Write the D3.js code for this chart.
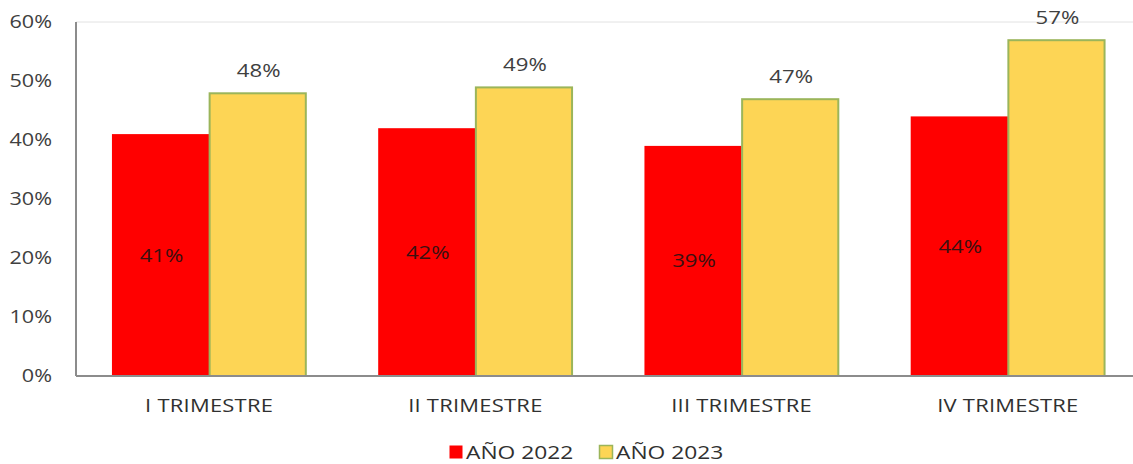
<!DOCTYPE html>
<html>
<head>
<meta charset="utf-8">
<script src="https://cdn.jsdelivr.net/npm/d3@7"></script>
<style>
  html, body { margin: 0; padding: 0; background: #fff; }
  svg { display: block; }
  text { font-family: "Open Sans", "Noto Sans", sans-serif; }
</style>
</head>
<body>
<svg id="chart" width="1133" height="464"></svg>
<script>
// Quarterly percentages by year
const categories = ["I TRIMESTRE", "II TRIMESTRE", "III TRIMESTRE", "IV TRIMESTRE"];
const seriesNames = ["AÑO 2022", "AÑO 2023"];
const values2022 = [0.41, 0.42, 0.39, 0.44];
const values2023 = [0.48, 0.49, 0.47, 0.57];
const yTicks = [0, 0.1, 0.2, 0.3, 0.4, 0.5, 0.6];

const seriesValues = [values2022, values2023];
const fills = ["#ff0000", "#fdd555"];
const strokes = ["none", "#9bb55a"];
const pct = d3.format(".0%");
const SX = 1.2; // horizontal stretch of the lettering

const svg = d3.select("#chart");
const margin = { left: 76, top: 22, bottom: 376, right: 1141 };

const x0 = d3.scaleBand()
  .domain(categories)
  .range([margin.left, margin.right])
  .paddingInner(0.27)
  .paddingOuter(0.135);

const x1 = d3.scaleBand()
  .domain(seriesNames)
  .range([0, x0.bandwidth()]);

const y = d3.scaleLinear().domain([0, 0.6]).range([margin.bottom, margin.top]);

// text placed at (cx, cy) with a horizontal stretch
function label(parent, cx, cy, str, size, fill, anchor) {
  return parent.append("text")
    .attr("transform", `translate(${cx},${cy}) scale(${SX},1)`)
    .attr("dy", "0.35em")
    .attr("text-anchor", anchor || "middle")
    .attr("font-size", size)
    .attr("fill", fill)
    .text(str);
}

// top frame line
svg.append("line")
  .attr("x1", margin.left).attr("x2", 1133)
  .attr("y1", y(0.6)).attr("y2", y(0.6))
  .attr("stroke", "#e2e2e2").attr("stroke-width", 1);

// y axis labels
const yAxis = d3.axisLeft(y).tickValues(yTicks).tickFormat(pct).tickSize(0).tickPadding(0);
const gy = svg.append("g").attr("transform", `translate(${margin.left},0)`).call(yAxis);
gy.select(".domain").remove();
gy.selectAll("text")
  .attr("x", null)
  .attr("transform", `translate(-24,0) scale(${SX},1)`)
  .attr("font-size", 18).attr("fill", "#404040");

// bars
categories.forEach((cat, i) => {
  seriesNames.forEach((s, j) => {
    const v = seriesValues[j][i];
    svg.append("rect")
      .attr("x", x0(cat) + x1(s) + (j === 1 ? 0.5 : 0))
      .attr("y", y(v) + (j === 1 ? 0.5 : 0))
      .attr("width", x1.bandwidth() - (j === 1 ? 1 : 0))
      .attr("height", y(0) - y(v) - (j === 1 ? 0.5 : 0))
      .attr("fill", fills[j])
      .attr("stroke", strokes[j])
      .attr("stroke-width", 2);
  });
});

// value labels
categories.forEach((cat, i) => {
  const v0 = values2022[i];
  label(svg, x0(cat) + x1(seriesNames[0]) + x1.bandwidth() / 2 + 1,
        (y(v0) + y(0)) / 2, pct(v0), 18.5, "#3a1010");
  const v1 = values2023[i];
  label(svg, x0(cat) + x1(seriesNames[1]) + x1.bandwidth() / 2 + 1,
        y(v1) - 22, pct(v1), 18.5, "#404040");
});

// axes lines
svg.append("line")
  .attr("x1", margin.left).attr("x2", margin.left)
  .attr("y1", margin.top).attr("y2", margin.bottom)
  .attr("stroke", "#8c8c8c").attr("stroke-width", 2);
svg.append("line")
  .attr("x1", margin.left).attr("x2", 1133)
  .attr("y1", margin.bottom).attr("y2", margin.bottom)
  .attr("stroke", "#8c8c8c").attr("stroke-width", 2);

// category labels
const xAxis = d3.axisBottom(x0).tickSize(0).tickPadding(0);
const gx = svg.append("g").attr("transform", `translate(0,${margin.bottom})`).call(xAxis);
gx.select(".domain").remove();
gx.selectAll("text")
  .attr("y", null).attr("dy", "0.35em")
  .attr("transform", `translate(0,30) scale(${SX},1)`)
  .attr("font-size", 18.3).attr("letter-spacing", 0.2).attr("fill", "#303030");

// legend
const legendX = [449, 599];
seriesNames.forEach((s, j) => {
  const g = svg.append("g").attr("transform", `translate(${legendX[j]},445)`);
  g.append("rect")
    .attr("x", 0.5).attr("y", 0.5).attr("width", 13).attr("height", 13)
    .attr("fill", fills[j]).attr("stroke", strokes[j]).attr("stroke-width", 1.5);
  label(g, 17, 7, s, 19, "#303030", "start");
});
</script>
</body>
</html>
